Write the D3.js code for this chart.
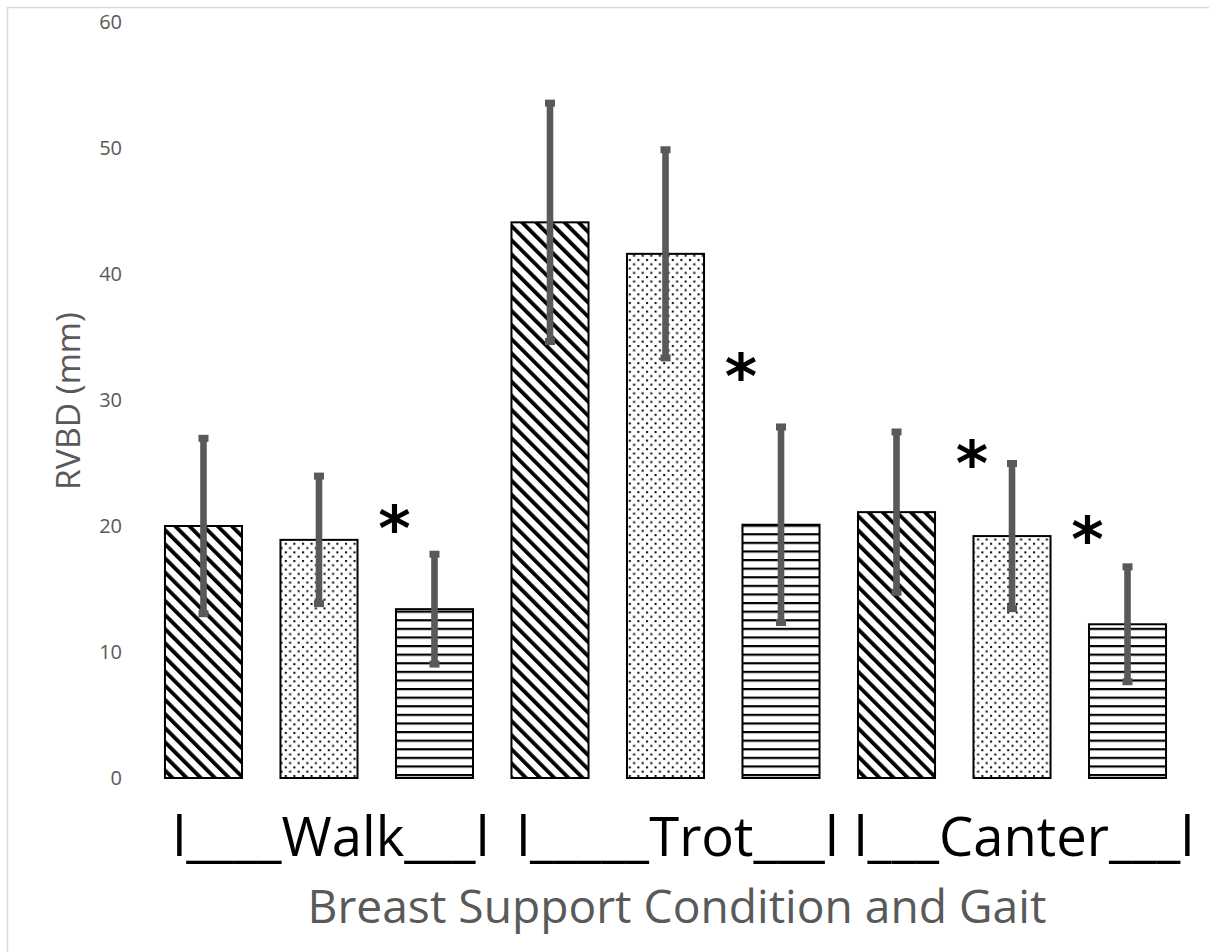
<!DOCTYPE html>
<html>
<head>
<meta charset="utf-8">
<script src="https://cdn.jsdelivr.net/npm/d3@7"></script>
<style>
  body { margin: 0; background: #fff; }
  svg { display: block; }
</style>
</head>
<body>
<svg id="chart"></svg>
<script>
// data
var bars = ["Walk-1", "Walk-2", "Walk-3", "Trot-1", "Trot-2", "Trot-3", "Canter-1", "Canter-2", "Canter-3"];
var means = [20.0, 18.9, 13.4, 44.1, 41.6, 20.1, 21.1, 19.2, 12.2];
var sds = [7.0, 5.1, 4.4, 9.5, 8.3, 7.8, 6.4, 5.8, 4.6];
var patterns = ["diag", "dots", "hlines", "diag", "dots", "hlines", "diag", "dots", "hlines"];
var gaitLabels = ["l____Walk___l", "l_____Trot___l", "l___Canter___l"];
var gaitCenters = [1, 4, 7];
var starBars = [2, 5, 7, 8];
var starValues = [20.6, 32.7, 25.8, 19.8];
var yTicks = [0, 10, 20, 30, 40, 50, 60];

var W = 1209, H = 952;
var grey = "#595959";

var svg = d3.select("#chart").attr("width", W).attr("height", H);

// chart frame
svg.append("rect")
    .attr("x", 7.5).attr("y", 7.5)
    .attr("width", 1300).attr("height", 1000)
    .attr("fill", "none")
    .attr("stroke", "#d9d9d9")
    .attr("stroke-width", 1.5);

// fill patterns
var defs = svg.append("defs");
var p1 = defs.append("pattern").attr("id", "diag")
    .attr("patternUnits", "userSpaceOnUse")
    .attr("width", 10).attr("height", 10)
    .attr("patternTransform", "rotate(-45)");
p1.append("rect").attr("width", 10).attr("height", 10).attr("fill", "#fff");
p1.append("rect").attr("x", 0).attr("y", 0).attr("width", 3.8).attr("height", 10).attr("fill", "#000");

var p2 = defs.append("pattern").attr("id", "dots")
    .attr("patternUnits", "userSpaceOnUse")
    .attr("width", 8.6).attr("height", 8.6);
p2.append("rect").attr("width", 8.6).attr("height", 8.6).attr("fill", "#fff");
p2.append("rect").attr("x", 1).attr("y", 1).attr("width", 2).attr("height", 2).attr("fill", "#000");
p2.append("rect").attr("x", 5.3).attr("y", 5.3).attr("width", 2).attr("height", 2).attr("fill", "#000");

var p3 = defs.append("pattern").attr("id", "hlines")
    .attr("patternUnits", "userSpaceOnUse")
    .attr("width", 10).attr("height", 8.6);
p3.append("rect").attr("width", 10).attr("height", 8.6).attr("fill", "#fff");
p3.append("rect").attr("x", 0).attr("y", 0).attr("width", 10).attr("height", 2.2).attr("fill", "#000");

// scales
var x = d3.scaleBand()
    .domain(bars)
    .range([126.5, 1204.5])
    .padding(0.333);

var y = d3.scaleLinear()
    .domain([0, 60])
    .range([778, 22]);

// y tick labels (no axis line in the original)
var yAxis = svg.append("g")
    .attr("transform", "translate(122,0)")
    .call(d3.axisLeft(y).tickValues(yTicks).tickSize(0).tickPadding(0));
yAxis.select(".domain").remove();
yAxis.attr("font-size", null).attr("font-family", null);
yAxis.selectAll("text")
    .attr("fill", grey)
    .style("font-family", "'Open Sans', sans-serif")
    .style("font-size", "20px");

// bars
svg.append("g")
    .selectAll("rect")
    .data(bars)
    .join("rect")
    .attr("x", d => x(d))
    .attr("y", (d, i) => y(means[i]))
    .attr("width", x.bandwidth())
    .attr("height", (d, i) => y(0) - y(means[i]))
    .attr("fill", (d, i) => `url(#${patterns[i]})`)
    .attr("stroke", "#000")
    .attr("stroke-width", 2);

// error bars
var err = svg.append("g").attr("fill", grey);
bars.forEach(function(d, i) {
  var cx = x(d) + x.bandwidth() / 2;
  var top = y(means[i] + sds[i]);
  var bot = y(means[i] - sds[i]);
  err.append("rect")
      .attr("x", cx - 3.3).attr("y", top)
      .attr("width", 6.6).attr("height", bot - top);
  err.append("rect")
      .attr("x", cx - 5).attr("y", top - 3)
      .attr("width", 10).attr("height", 7);
  err.append("rect")
      .attr("x", cx - 5).attr("y", bot - 4)
      .attr("width", 10).attr("height", 7);
});

// significance stars
svg.append("g")
    .selectAll("text")
    .data(starBars)
    .join("text")
    .attr("x", (d, i) => x(bars[d]) + x.bandwidth() / 2 - 40)
    .attr("y", (d, i) => y(starValues[i]) + 32)
    .attr("text-anchor", "middle")
    .attr("font-family", "'DejaVu Sans', sans-serif")
    .attr("font-weight", "bold")
    .attr("font-size", 62)
    .attr("fill", "#000")
    .text("*");

// gait labels
var gl = svg.append("g")
    .selectAll("text")
    .data(gaitLabels)
    .join("text")
    .attr("x", (d, i) => x(bars[gaitCenters[i]]) + x.bandwidth() / 2 + 12)
    .attr("y", 856)
    .attr("text-anchor", "middle")
    .attr("font-family", "'Open Sans', sans-serif")
    .attr("font-size", 50)
    .attr("fill", "#000")
    .text(d => d);
var w0 = gl.node().getComputedTextLength();
gl.attr("font-size", 50 * 317 / w0);

// axis titles
var xt = svg.append("text")
    .attr("x", 677)
    .attr("y", 923)
    .attr("text-anchor", "middle")
    .attr("font-family", "'Open Sans', sans-serif")
    .attr("font-size", 40)
    .attr("fill", grey)
    .text("Breast Support Condition and Gait");
xt.attr("font-size", 40 * 739 / xt.node().getComputedTextLength());

var yt = svg.append("text")
    .attr("transform", "translate(80,401) rotate(-90)")
    .attr("text-anchor", "middle")
    .attr("font-family", "'Open Sans', sans-serif")
    .attr("font-size", 24)
    .attr("fill", grey)
    .text("RVBD (mm)");
yt.attr("font-size", 24 * 178 / yt.node().getComputedTextLength());
</script>
</body>
</html>
